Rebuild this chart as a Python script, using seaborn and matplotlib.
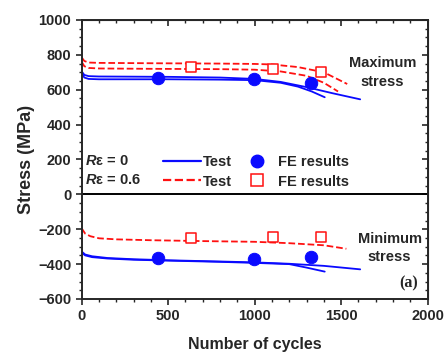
import matplotlib
matplotlib.use("Agg")
import matplotlib.pyplot as plt
import numpy as np
import pandas as pd
import seaborn as sns
from matplotlib.lines import Line2D
from matplotlib.ticker import MultipleLocator


# =========================================================
# Data
# =========================================================

# R_eps = 0, test curves (maximum stress)
blue_max1_n = [0, 15, 40, 100, 300, 500, 800, 1000, 1150, 1300, 1450, 1610]
blue_max1_s = [705, 685, 678, 676, 675, 674, 670, 662, 645, 615, 580, 545]
blue_max2_n = [0, 15, 40, 100, 300, 500, 800, 1000, 1150, 1250, 1330, 1405]
blue_max2_s = [695, 670, 662, 660, 660, 660, 658, 655, 640, 618, 590, 557]

# R_eps = 0, test curves (minimum stress)
blue_min1_n = [0, 20, 60, 150, 300, 500, 800, 1000, 1200, 1400, 1610]
blue_min1_s = [-328, -345, -355, -365, -372, -378, -385, -390, -398, -410, -430]
blue_min2_n = [0, 20, 60, 150, 300, 500, 800, 1000, 1200, 1300, 1405]
blue_min2_s = [-335, -350, -360, -368, -375, -380, -387, -393, -400, -420, -443]

# R_eps = 0.6, test curves (maximum stress)
red_max1_n = [0, 15, 40, 100, 400, 800, 1000, 1100, 1250, 1400, 1535]
red_max1_s = [785, 765, 756, 754, 752, 750, 748, 745, 730, 700, 633]
red_max2_n = [0, 15, 40, 100, 400, 800, 1000, 1150, 1300, 1400, 1482]
red_max2_s = [760, 735, 725, 722, 720, 718, 715, 705, 680, 640, 590]

# R_eps = 0.6, test curves (minimum stress)
red_min_n = [0, 20, 50, 100, 200, 400, 700, 1000, 1200, 1400, 1530]
red_min_s = [-195, -225, -240, -252, -258, -263, -268, -272, -280, -292, -312]

# FE results
fe_n_blue = [440, 995, 1325]
fe_max_blue = [665, 660, 640]
fe_min_blue = [-365, -368, -358]

fe_n_red = [630, 1105, 1385]
fe_max_red = [730, 720, 700]
fe_min_red = [-250, -245, -245]


# =========================================================
# Figure
# =========================================================

sns.set_style("ticks")
plt.rcParams["font.family"] = ["Liberation Sans", "DejaVu Sans"]
plt.rcParams["font.weight"] = "bold"
plt.rcParams["mathtext.fontset"] = "custom"
plt.rcParams["mathtext.bfit"] = "Liberation Sans:italic:bold"

fig = plt.figure(figsize=(4.45, 3.52), dpi=100)
ax = fig.add_axes([0.1836, 0.1506, 0.7774, 0.7926])

BLUE = "#0a0aff"
RED = "#ff1010"

curves = [
    (blue_max1_n, blue_max1_s, BLUE, "-"),
    (blue_max2_n, blue_max2_s, BLUE, "-"),
    (blue_min1_n, blue_min1_s, BLUE, "-"),
    (blue_min2_n, blue_min2_s, BLUE, "-"),
    (red_max1_n, red_max1_s, RED, "--"),
    (red_max2_n, red_max2_s, RED, "--"),
    (red_min_n, red_min_s, RED, "--"),
]

for n, s, color, ls in curves:
    df = pd.DataFrame({"n": n, "s": s})
    sns.lineplot(data=df, x="n", y="s", color=color, linestyle=ls,
                 lw=1.3, ax=ax, legend=False)

sns.scatterplot(x=fe_n_blue + fe_n_blue, y=fe_max_blue + fe_min_blue,
                color=BLUE, s=80, marker="o", edgecolor=BLUE, ax=ax,
                legend=False, zorder=5)
sns.scatterplot(x=fe_n_red + fe_n_red, y=fe_max_red + fe_min_red,
                facecolor="white", s=62, marker="s", edgecolor=RED,
                linewidth=1.1, ax=ax, legend=False, zorder=5)

ax.axhline(0, color="black", lw=1.4)

ax.set_xlim(0, 2000)
ax.set_ylim(-600, 1000)
ax.xaxis.set_major_locator(MultipleLocator(500))
ax.xaxis.set_minor_locator(MultipleLocator(100))
ax.yaxis.set_major_locator(MultipleLocator(200))
ax.yaxis.set_minor_locator(MultipleLocator(50))

for side in ["left", "right", "top", "bottom"]:
    ax.spines[side].set_linewidth(1.4)
    ax.spines[side].set_visible(True)

ax.tick_params(which="major", direction="out", length=4, width=1.2,
               labelsize=10.5)
ax.tick_params(which="minor", direction="out", length=2.5, width=1)
for lab in ax.get_xticklabels() + ax.get_yticklabels():
    lab.set_fontweight("bold")

# mirrored ticks on top and right, pointing inward
top = ax.secondary_xaxis("top")
top.xaxis.set_major_locator(MultipleLocator(500))
top.xaxis.set_minor_locator(MultipleLocator(100))
top.tick_params(which="major", direction="in", length=4, width=1.2,
                labeltop=False)
top.tick_params(which="minor", direction="in", length=2.5, width=1)
right = ax.secondary_yaxis("right")
right.yaxis.set_major_locator(MultipleLocator(200))
right.yaxis.set_minor_locator(MultipleLocator(50))
right.tick_params(which="major", direction="in", length=4, width=1.2,
                  labelright=False)
right.tick_params(which="minor", direction="in", length=2.5, width=1)

ax.set_xlabel("Number of cycles", fontsize=11.5, fontweight="bold",
              labelpad=10)
ax.set_ylabel("Stress (MPa)", fontsize=13, fontweight="bold", labelpad=2)

# annotations
ax.text(1740, 792, "Maximum\nstress", fontsize=10.5, fontweight="bold",
        ha="center", va="top", linespacing=1.4)
ax.text(1780, -215, "Minimum\nstress", fontsize=10.5, fontweight="bold",
        ha="center", va="top", linespacing=1.4)
ax.text(1945, -513, "(a)", fontsize=11.5, fontweight="bold",
        family="Liberation Serif", ha="right", va="center")

ax.text(18, 190, r"$\mathbfit{R}$ε = 0", fontsize=10.5,
        fontweight="bold", va="center")
ax.text(18, 83, r"$\mathbfit{R}$ε = 0.6", fontsize=10.5,
        fontweight="bold", va="center")

handles = [
    Line2D([], [], color=BLUE, lw=1.6, ls="-"),
    Line2D([], [], color=RED, lw=1.6, ls="--"),
    Line2D([], [], color=BLUE, marker="o", ls="", ms=9),
    Line2D([], [], color=RED, marker="s", ls="", ms=8, mfc="white",
           mew=1.1),
]
labels = ["Test", "Test", "FE results", "FE results"]
ax.legend(handles, labels, ncol=2, frameon=False,
          loc="center left", bbox_to_anchor=(0.198, 0.455),
          handlelength=2.6, handletextpad=0.1, columnspacing=0.45,
          labelspacing=0.35, prop={"weight": "bold", "size": 10.5})

plt.savefig("out.png", dpi=100)
